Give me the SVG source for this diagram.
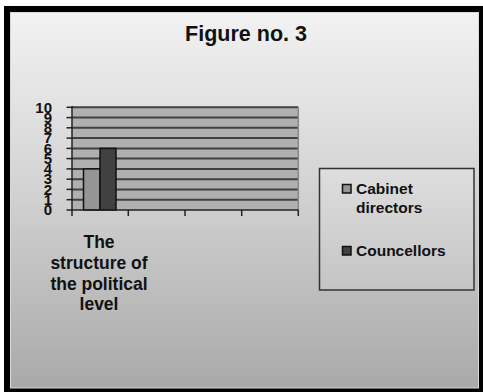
<svg xmlns="http://www.w3.org/2000/svg" width="483" height="392" viewBox="0 0 483 392">
<defs>
<linearGradient id="bg" x1="0" y1="0" x2="0" y2="1">
<stop offset="0" stop-color="#f2f2f2"/>
<stop offset="0.45" stop-color="#d4d4d4"/>
<stop offset="1" stop-color="#a9a9a9"/>
</linearGradient>
<linearGradient id="lg" x1="0" y1="0" x2="0" y2="1">
<stop offset="0" stop-color="#dedede"/>
<stop offset="1" stop-color="#c4c4c4"/>
</linearGradient>
</defs>
<style>
text{font-family:"Liberation Sans",Arial,sans-serif;font-weight:bold;fill:#111}
.grid{stroke:#404040;stroke-width:2}
.ax{stroke:#222;stroke-width:1.5}
.ylab{font-size:15px;text-anchor:end}
.cat{font-size:17.5px;text-anchor:middle}
.leg{font-size:15.5px}
</style>
<rect x="0" y="0" width="483" height="392" fill="#ffffff"/>
<rect x="4" y="6" width="479" height="386" fill="#000"/>
<rect x="10.5" y="12.5" width="468" height="375.5" fill="url(#bg)" stroke="#d8d8d8" stroke-width="1"/>
<g id="title"><text x="246" y="41" style="font-size:21.5px;text-anchor:middle">Figure no. 3</text></g>
<g id="plot">
<rect x="72" y="107.3" width="226.3" height="102.7" fill="#b0b0b0"/>
<g class="grid">
<line x1="72" y1="107.3" x2="298.3" y2="107.3"/>
<line x1="72" y1="117.6" x2="298.3" y2="117.6"/>
<line x1="72" y1="127.8" x2="298.3" y2="127.8"/>
<line x1="72" y1="138.1" x2="298.3" y2="138.1"/>
<line x1="72" y1="148.4" x2="298.3" y2="148.4"/>
<line x1="72" y1="158.6" x2="298.3" y2="158.6"/>
<line x1="72" y1="168.9" x2="298.3" y2="168.9"/>
<line x1="72" y1="179.2" x2="298.3" y2="179.2"/>
<line x1="72" y1="189.4" x2="298.3" y2="189.4"/>
<line x1="72" y1="199.7" x2="298.3" y2="199.7"/>
</g>
<line x1="298.3" y1="107.3" x2="298.3" y2="210" stroke="#888" stroke-width="1.5"/>
</g>
<g id="bars">
<rect id="bar-cabinet" x="83.5" y="168.9" width="16.5" height="41.1" fill="#959595" stroke="#111" stroke-width="1.5"/>
<rect id="bar-councellors" x="100" y="148.4" width="16" height="61.6" fill="#414141" stroke="#111" stroke-width="1.5"/>
</g>
<g id="axes" class="ax">
<line x1="72" y1="106" x2="72" y2="216"/>
<line x1="66.5" y1="210" x2="298.3" y2="210"/>
<line x1="66.5" y1="107.3" x2="72" y2="107.3"/>
<line x1="66.5" y1="117.6" x2="72" y2="117.6"/>
<line x1="66.5" y1="127.8" x2="72" y2="127.8"/>
<line x1="66.5" y1="138.1" x2="72" y2="138.1"/>
<line x1="66.5" y1="148.4" x2="72" y2="148.4"/>
<line x1="66.5" y1="158.6" x2="72" y2="158.6"/>
<line x1="66.5" y1="168.9" x2="72" y2="168.9"/>
<line x1="66.5" y1="179.2" x2="72" y2="179.2"/>
<line x1="66.5" y1="189.4" x2="72" y2="189.4"/>
<line x1="66.5" y1="199.7" x2="72" y2="199.7"/>
<line x1="128.3" y1="210" x2="128.3" y2="216"/>
<line x1="185" y1="210" x2="185" y2="216"/>
<line x1="241.7" y1="210" x2="241.7" y2="216"/>
<line x1="298.3" y1="210" x2="298.3" y2="216"/>
</g>
<g id="ylabels">
<text class="ylab" x="52" y="112.5">10</text>
<text class="ylab" x="52" y="122.8">9</text>
<text class="ylab" x="52" y="133">8</text>
<text class="ylab" x="52" y="143.3">7</text>
<text class="ylab" x="52" y="153.6">6</text>
<text class="ylab" x="52" y="163.8">5</text>
<text class="ylab" x="52" y="174.1">4</text>
<text class="ylab" x="52" y="184.4">3</text>
<text class="ylab" x="52" y="194.6">2</text>
<text class="ylab" x="52" y="204.9">1</text>
<text class="ylab" x="52" y="215.2">0</text>
</g>
<g id="category">
<text class="cat" x="99" y="248">The</text>
<text class="cat" x="99" y="269">structure of</text>
<text class="cat" x="99" y="289.5">the political</text>
<text class="cat" x="99" y="310">level</text>
</g>
<g id="legend">
<rect x="319.5" y="168.5" width="154.5" height="121.5" fill="url(#lg)" stroke="#333" stroke-width="1.5"/>
<g id="legend-cabinet">
<rect x="342.5" y="184.5" width="8.5" height="8.5" fill="#959595" stroke="#111" stroke-width="1.5"/>
<text class="leg" x="356" y="194">Cabinet</text>
<text class="leg" x="356" y="213">directors</text>
</g>
<g id="legend-councellors">
<rect x="342.5" y="246.5" width="8.5" height="8.5" fill="#414141" stroke="#111" stroke-width="1.5"/>
<text class="leg" x="356" y="256">Councellors</text>
</g>
</g>
</svg>
